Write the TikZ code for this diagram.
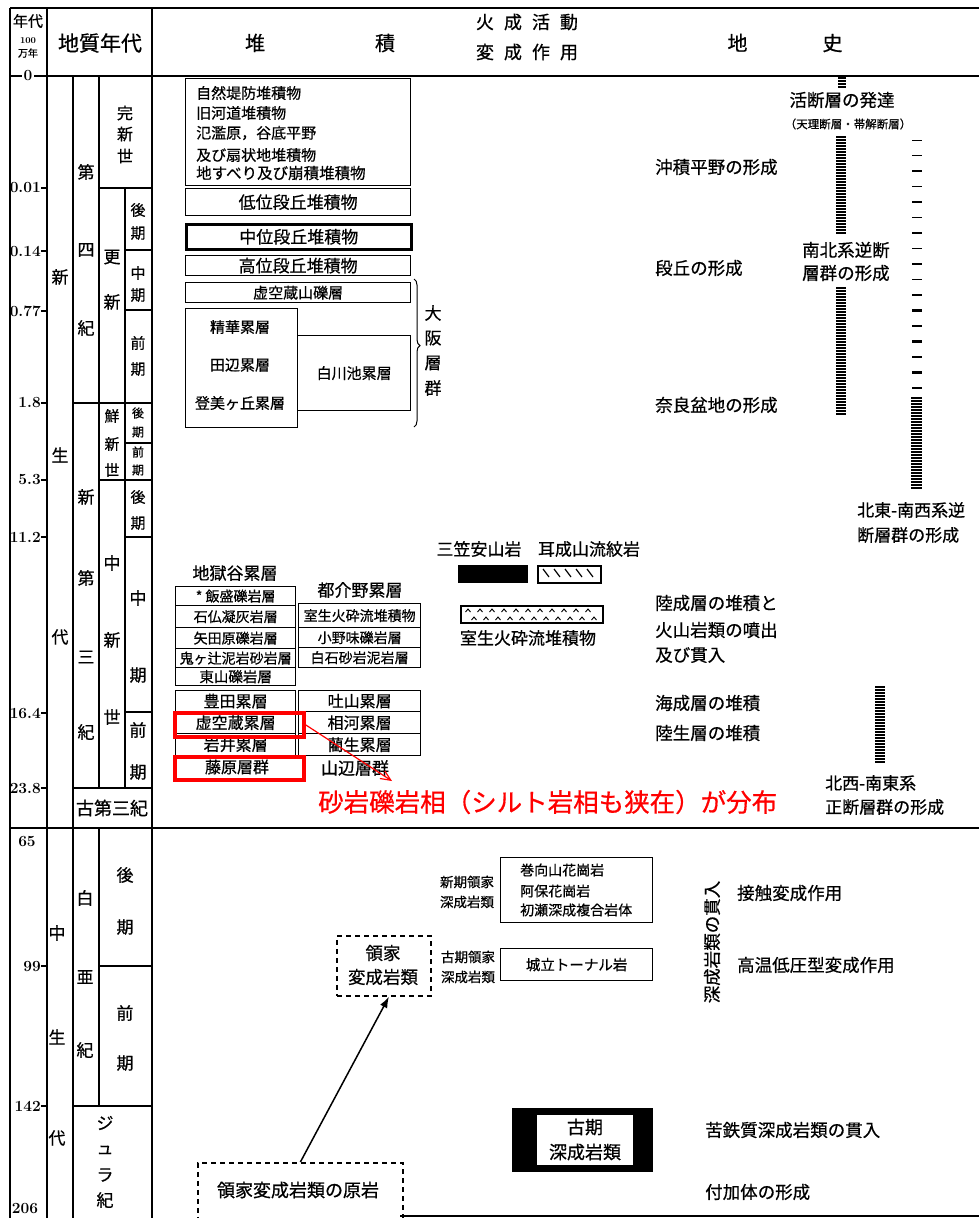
\documentclass[tikz,border=0pt]{standalone}
\usepackage{fontspec}
\newfontfamily\jp{Noto Sans CJK JP}[FakeBold=0.6]
\usetikzlibrary{arrows.meta,decorations.pathreplacing}
\begin{document}
\begin{tikzpicture}[x=1pt,y=-1pt,
  jt/.style={font={\jp\fontsize{#1}{#1}\selectfont},inner sep=0pt},
  jt/.default=17,
  num/.style={font={\bfseries\fontsize{15.5}{15.5}\selectfont},inner sep=0pt},
  frm/.style={line width=1.6pt},
  sub/.style={line width=1.3pt},
  box/.style={draw,line width=1.3pt,inner sep=0pt,anchor=north west},
  dbox/.style={draw,line width=1.8pt,dash pattern=on 5pt off 4pt,inner sep=0pt,anchor=north west},
  redbox/.style={draw=red,line width=3.5pt,inner sep=0pt,anchor=north west},
  ladder/.style={line width=1.1pt},
]
\useasboundingbox (0,0) rectangle (979,1218);
\fill[white] (0,0) rectangle (979,1218);

% ---------- frame ----------
\draw[frm] (10,8) -- (979,8);
\draw[frm] (10,76) -- (979,76);
\draw[frm] (10,828) -- (979,828);
\draw[frm] (400,1216) -- (979,1216);
\draw[frm] (10,8) -- (10,1218);
\draw[frm] (47,8) -- (47,1218);
\draw[frm] (152,8) -- (152,1218);
\draw[sub] (73,76) -- (73,1218);
\draw[sub] (99,76) -- (99,788);
\draw[sub] (99,828) -- (99,1106);
\draw[sub] (125,188) -- (125,788);
\foreach \a/\b/\y in {99/152/188,125/152/250,125/152/310,73/152/403,125/152/443,99/152/480,125/152/537,125/152/712,73/152/788,99/152/966,73/152/1106}
  \draw[sub] (\a,\y) -- (\b,\y);

% ---------- header ----------
\node[jt=15] (hNen) at (28,21) {年代};
\node[font={\bfseries\fontsize{9}{9}\selectfont},inner sep=0pt] (h100) at (28,41) {100};
\node[jt=10] (hMan) at (28,53) {万年};
\node[jt=21] (hChishitsu) at (100,43) {地質年代};
\node[jt=20] (hTaiseki) at (320,43) {堆\hspace{110pt}積};
\node[jt=18] (hKasei) at (527,22) {火\hspace{10pt}成\hspace{10pt}活\hspace{10pt}動};
\node[jt=18] (hHensei) at (527,52) {変\hspace{10pt}成\hspace{10pt}作\hspace{10pt}用};
\node[jt=20] (hChishi) at (785,43) {地\hspace{75pt}史};

% ---------- time scale ----------
\node[num,fill=white,inner sep=2pt] (t0) at (28,76) {0};
\foreach \v/\y in {0.01/188,0.14/251,0.77/311,1.8/403,5.3/480,11.2/537,16.4/713,23.8/788,99/966,142/1106}{
  \node[num,anchor=east] (t\y) at (41,\y) {\v};
  \draw[sub] (41,\y) -- (47,\y);
}
\node[num] (t65) at (27,841) {65};
\node[num] (t206) at (25,1208) {206};

% ---------- geologic time names ----------
\foreach \t/\x/\y/\s in {新/60/277/17,生/60/455/17,代/60/637/17,
  第/86/172/17,四/86/250/17,紀/86/328/17,
  新/86/497/17,第/86/578/17,三/86/657/17,紀/86/732/17,
  完/125/113/16,新/125/134/16,世/125/156/16,
  更/112/257/17,新/112/302/17,
  後/138/210/15,期/138/233/15,中/138/273/15,期/138/295/15,前/138/343/15,期/138/369/15,
  鮮/112/416/15,新/112/444/15,世/112/470/15,
  後/138/413/12,期/138/432/12,前/138/452/12,期/138/470/12,
  中/112/563/17,新/112/640/17,世/112/717/17,
  後/138/497/15,期/138/523/15,中/138/598/17,期/138/675/17,前/138/730/17,期/138/772/17,
  中/57/933/17,生/57/1037/17,代/57/1138/17,
  白/85/898/17,亜/85/977/17,紀/85/1050/17,
  後/125/875/17,期/125/927/17,前/125/1013/17,期/125/1063/17,
  ジ/105/1123/17,ュ/105/1150/17,ラ/105/1175/17,紀/105/1200/17}
  \node[jt=\s] (g-\x-\y) at (\x,\y) {\t};
\node[jt=18] (paleogene) at (112,808) {古第三紀};

% ---------- Quaternary deposits ----------
\node[box,minimum width=225pt,minimum height=107pt] (alluv) at (185,78) {};
\node[jt=15,anchor=west] (a1) at (196,93) {自然堤防堆積物};
\node[jt=15,anchor=west] (a2) at (196,113) {旧河道堆積物};
\node[jt=15,anchor=west] (a3) at (196,133) {氾濫原，谷底平野};
\node[jt=15,anchor=west] (a4) at (196,155) {及び扇状地堆積物};
\node[jt=15.5,anchor=west] (a5) at (196,173) {地すべり及び崩積堆積物};
\node[box,jt=17,minimum width=225pt,minimum height=27pt] (lowT) at (185,188) {低位段丘堆積物};
\node[box,jt=17,line width=2.6pt,minimum width=225pt,minimum height=25pt] (midT) at (185,223) {中位段丘堆積物};
\node[box,jt=17,minimum width=225pt,minimum height=20pt] (highT) at (185,255) {高位段丘堆積物};
\node[box,jt=15,minimum width=225pt,minimum height=20pt] (kokuzoG) at (185,282) {虚空蔵山礫層};
\node[box,minimum width=112pt,minimum height=119pt] (osakaL) at (185,308) {};
\node[jt=15] (seika) at (240,327) {精華累層};
\node[jt=15] (tanabe) at (240,365) {田辺累層};
\node[jt=15] (tomi) at (240,403) {登美ヶ丘累層};
\node[box,jt=15,minimum width=113pt,minimum height=75pt] (shirakawa) at (297,335) {白川池累層};
\draw[decorate,decoration={brace,amplitude=6pt,aspect=0.45},line width=1pt] (414,279) -- (414,427);
\foreach \t/\y in {大/313,阪/338,層/363,群/388}
  \node[jt=17] (os-\y) at (433,\y) {\t};

% ---------- Neogene deposits ----------
\node[jt=17] (jigoku) at (235,573) {地獄谷累層};
\node[box,jt=14,minimum width=120pt,minimum height=19pt] (L1) at (175,586) {* 飯盛礫岩層};
\node[box,jt=14,minimum width=120pt,minimum height=22pt] (L2) at (175,605) {石仏凝灰岩層};
\node[box,jt=14,minimum width=120pt,minimum height=21pt] (L3) at (175,627) {矢田原礫岩層};
\node[box,jt=14,minimum width=120pt,minimum height=19pt] (L4) at (175,648) {鬼ヶ辻泥岩砂岩層};
\node[box,jt=14.5,minimum width=120pt,minimum height=18pt] (L5) at (175,667) {東山礫岩層};
\node[jt=17] (tsugeno) at (360,590) {都介野累層};
\node[box,jt=14,minimum width=122pt,minimum height=24pt] (R1) at (298,603) {室生火砕流堆積物};
\node[box,jt=14,minimum width=122pt,minimum height=20pt] (R2) at (298,627) {小野味礫岩層};
\node[box,jt=14,minimum width=122pt,minimum height=20pt] (R3) at (298,647) {白石砂岩泥岩層};
\node[box,jt=16,minimum width=120pt,minimum height=21pt] (LL1) at (175,690) {豊田累層};
\node[box,jt=16,minimum width=120pt,minimum height=22pt] (LL2) at (175,711) {虚空蔵累層};
\node[box,jt=16,minimum width=120pt,minimum height=22pt] (LL3) at (175,733) {岩井累層};
\node[jt=16] (fujiwara) at (237,767) {藤原層群};
\node[box,jt=16,minimum width=122pt,minimum height=21pt] (RR1) at (298,690) {吐山累層};
\node[box,jt=16,minimum width=122pt,minimum height=22pt] (RR2) at (298,711) {相河累層};
\node[box,jt=16,minimum width=122pt,minimum height=22pt] (RR3) at (298,733) {藺生累層};
\node[jt=17] (yamabe) at (355,768) {山辺層群};
\node[redbox,minimum width=129pt,minimum height=24pt] (redA) at (173,711) {};
\node[redbox,minimum width=129pt,minimum height=23pt] (redB) at (173,755) {};
\coordinate (redtip) at (392,781);
\draw[red,line width=1.2pt,-{Straight Barb[length=10pt,width=9pt]}] (redA.east) -- (redtip);
\node[font={\jp\fontsize{25.5}{25.5}\selectfont},inner sep=0pt,text=red,anchor=west] (redtxt) at (318,802) {砂岩礫岩相（シルト岩相も狭在）が分布};

% ---------- volcanic ----------
\node[jt=17] (misakaT) at (479,549) {三笠安山岩};
\node[jt=17] (mimiT) at (589,549) {耳成山流紋岩};
\node[draw,fill=black,inner sep=0pt,anchor=north west,minimum width=69pt,minimum height=17pt] (misakaR) at (458,565) {};
\node[draw,line width=1.5pt,inner sep=0pt,anchor=north west,minimum width=63pt,minimum height=17pt] (mimiR) at (537,565) {};
\foreach \x in {547,558,569,580,591}
  \draw[line width=1.2pt] (\x-4,569) -- (\x+2,577);
\node[draw,line width=1.5pt,inner sep=0pt,anchor=north west,minimum width=142pt,minimum height=17pt] (muroR) at (460,605) {};
\foreach \x in {468,480,...,596}
  \draw[line width=0.9pt] (\x-2.5,612) -- (\x,609) -- (\x+2.5,612);
\foreach \x in {474,486,...,596}
  \draw[line width=0.9pt] (\x-2.5,620) -- (\x,617) -- (\x+2.5,620);
\node[jt=17] (muroT) at (528,638) {室生火砕流堆積物};

% ---------- geological history ----------
\node[jt=17.5] (katsu) at (842,100) {活断層の発達};
\node[jt=11.5] (tenri) at (848,124) {（天理断層・帯解断層）};
\node[jt=17.5,anchor=west] (h1) at (655,167) {沖積平野の形成};
\node[jt=17.5,anchor=west] (h2) at (655,268) {段丘の形成};
\node[jt=17.5,anchor=west] (h3) at (655,405) {奈良盆地の形成};
\node[jt=17.5,anchor=west] (nb1) at (802,250) {南北系逆断};
\node[jt=17.5,anchor=west] (nb2) at (802,273) {層群の形成};
\node[jt=17,anchor=west] (ne1) at (857,510) {北東-南西系逆};
\node[jt=17,anchor=west] (ne2) at (857,535) {断層群の形成};
\node[jt=17.5,anchor=west] (h4) at (655,603) {陸成層の堆積と};
\node[jt=17.5,anchor=west] (h5) at (655,630) {火山岩類の噴出};
\node[jt=17.5,anchor=west] (h6) at (655,655) {及び貫入};
\node[jt=17.5,anchor=west] (h7) at (655,703) {海成層の堆積};
\node[jt=17.5,anchor=west] (h8) at (655,733) {陸生層の堆積};
\node[jt=17,anchor=west] (nw1) at (825,783) {北西-南東系};
\node[jt=17,anchor=west] (nw2) at (825,807) {正断層群の形成};

% ladders (fault activity bars)
\foreach \y in {78,81,84,87} \draw[ladder] (838,\y) -- (846,\y);
\foreach \y in {137,140,...,235} \draw[ladder] (836,\y) -- (846,\y);
\foreach \y in {288,291,...,415} \draw[ladder] (836,\y) -- (846,\y);
\foreach \k in {0,...,16}{
  \pgfmathsetmacro\lw{1+0.1*\k}
  \draw[line width=\lw pt] (912,{140+15.5*\k}) -- (922,{140+15.5*\k});
}
\foreach \y in {398,401,...,488} \draw[ladder] (911,\y) -- (922,\y);
\foreach \y in {687,690,...,762} \draw[ladder] (875,\y) -- (885,\y);

% ---------- Mesozoic ----------
\node[box,minimum width=152pt,minimum height=65pt] (newR) at (500,857) {};
\node[jt=14,anchor=west] (n1) at (520,870) {巻向山花崗岩};
\node[jt=14,anchor=west] (n2) at (520,891) {阿保花崗岩};
\node[jt=14,anchor=west] (n3) at (520,910) {初瀬深成複合岩体};
\node[jt=13.5] (nl1) at (467,882) {新期領家};
\node[jt=13.5] (nl2) at (467,902) {深成岩類};
\node[box,jt=14.5,minimum width=152pt,minimum height=32pt] (joryu) at (500,948) {城立トーナル岩};
\node[jt=13.5] (ol1) at (468,957) {古期領家};
\node[jt=13.5] (ol2) at (468,977) {深成岩類};
\node[dbox,minimum width=94pt,minimum height=60pt] (ryoke) at (336,935) {};
\node[jt=17.5] (ry1) at (383,953) {領家};
\node[jt=17.5] (ry2) at (383,977) {変成岩類};
\node[dbox,minimum width=205pt,minimum height=58pt] (genpan) at (197,1162) {};
\node[jt=18] (gp) at (298,1190) {領家変成岩類の原岩};
\draw[line width=1.5pt,-{Latex[length=11pt,width=8pt]}] (genpan.north) -- ([xshift=5pt]ryoke.south);
\node[fill=black,anchor=north west,minimum width=141pt,minimum height=64pt,inner sep=0pt] (kokiB) at (512,1108) {};
\node[fill=white,anchor=north west,minimum width=96pt,minimum height=50pt,inner sep=0pt] (kokiW) at (537,1115) {};
\node[jt=18] (k1) at (585,1127) {古期};
\node[jt=18] (k2) at (585,1152) {深成岩類};

\node[jt=17.5,rotate=90] (shinsei) at (712,942) {深成岩類の貫入};
\node[jt=17.5,anchor=west] (m1) at (737,893) {接触変成作用};
\node[jt=17.5,anchor=west] (m2) at (737,965) {高温低圧型変成作用};
\node[jt=17.5,anchor=west] (m3) at (705,1130) {苦鉄質深成岩類の貫入};
\node[jt=17.5,anchor=west] (m4) at (705,1192) {付加体の形成};
\end{tikzpicture}
\end{document}
